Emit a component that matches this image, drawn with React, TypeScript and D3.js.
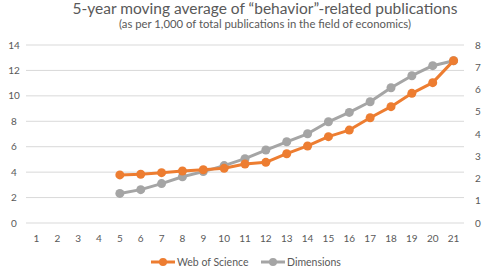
import React from "react";
import * as d3 from "d3";

const categories = Array.from({ length: 21 }, (_, i) => String(i + 1));
const wosValues: (number | null)[] = [null, null, null, null, 3.78, 3.83, 3.96, 4.09, 4.19, 4.30, 4.64, 4.77, 5.45, 6.06, 6.79, 7.31, 8.28, 9.15, 10.2, 11.04, 12.77];
const dimValues: (number | null)[] = [null, null, null, null, 1.33, 1.5, 1.77, 2.08, 2.31, 2.58, 2.89, 3.28, 3.65, 4.01, 4.55, 4.97, 5.45, 6.08, 6.62, 7.07, 7.29];
const leftTicks = [0, 2, 4, 6, 8, 10, 12, 14];
const rightTicks = [0, 1, 2, 3, 4, 5, 6, 7, 8];
const title = "5-year moving average of \u201Cbehavior\u201D-related publications";
const subtitle = "(as per 1,000 of total publications in the field of economics)";
const seriesNames = ["Web of Science", "Dimensions"];

const W = 487, H = 270;
const ORANGE = "#ED7D31", GRAY = "#A5A5A5", TXT = "#595959";
const FONT = "Lato, 'Open Sans', sans-serif";

export default function App() {
  const x = d3.scaleBand().domain(categories).range([26, 464]);
  const yL = d3.scaleLinear().domain([0, 14]).range([223, 45]);
  const yR = d3.scaleLinear().domain([0, 8]).range([223, 45]);
  const cx = (c: string) => (x(c) as number) + x.bandwidth() / 2;

  const mk = (vals: (number | null)[]) =>
    categories.map((c, i) => ({ c, v: vals[i] })).filter(d => d.v !== null) as { c: string; v: number }[];
  const wos = mk(wosValues);
  const dim = mk(dimValues);
  const lineL = d3.line<{ c: string; v: number }>().x(d => cx(d.c)).y(d => yL(d.v));
  const lineR = d3.line<{ c: string; v: number }>().x(d => cx(d.c)).y(d => yR(d.v));

  return (
    <svg width={W} height={H} style={{ position: "absolute", left: 0, top: 0, background: "#fff" }} fontFamily={FONT}>
      <text x={265} y={14} textAnchor="middle" fontSize={15.5} fill={TXT}>{title}</text>
      <text x={265} y={28} textAnchor="middle" fontSize={11.3} fill={TXT}>{subtitle}</text>
      {leftTicks.map(t => (
        <g key={"l" + t}>
          <line x1={26} x2={464} y1={yL(t)} y2={yL(t)} stroke="#D9D9D9" strokeWidth={1} />
          <text x={14} y={yL(t)} dy="0.35em" textAnchor="middle" fontSize={10} fill={TXT}>{t}</text>
        </g>
      ))}
      {rightTicks.map(t => (
        <text key={"r" + t} x={478} y={yR(t)} dy="0.35em" textAnchor="middle" fontSize={10} fill={TXT}>{t}</text>
      ))}
      {categories.map(c => (
        <text key={"c" + c} x={cx(c)} y={238} dy="0.35em" textAnchor="middle" fontSize={10} fill={TXT}>{c}</text>
      ))}
      <path d={lineR(dim) || ""} fill="none" stroke={GRAY} strokeWidth={3} strokeLinejoin="round" />
      {dim.map(d => <circle key={"d" + d.c} cx={cx(d.c)} cy={yR(d.v)} r={4.5} fill={GRAY} />)}
      <path d={lineL(wos) || ""} fill="none" stroke={ORANGE} strokeWidth={3} strokeLinejoin="round" />
      {wos.map(d => <circle key={"w" + d.c} cx={cx(d.c)} cy={yL(d.v)} r={4.5} fill={ORANGE} />)}
      <g>
        <line x1={151} x2={175} y1={262} y2={262} stroke={ORANGE} strokeWidth={3} />
        <circle cx={163} cy={262} r={4} fill={ORANGE} />
        <text x={177} y={262} dy="0.35em" fontSize={10.5} fill={TXT}>{seriesNames[0]}</text>
        <line x1={261} x2={285} y1={262} y2={262} stroke={GRAY} strokeWidth={3} />
        <circle cx={273} cy={262} r={4} fill={GRAY} />
        <text x={287} y={262} dy="0.35em" fontSize={10.5} fill={TXT}>{seriesNames[1]}</text>
      </g>
    </svg>
  );
}
